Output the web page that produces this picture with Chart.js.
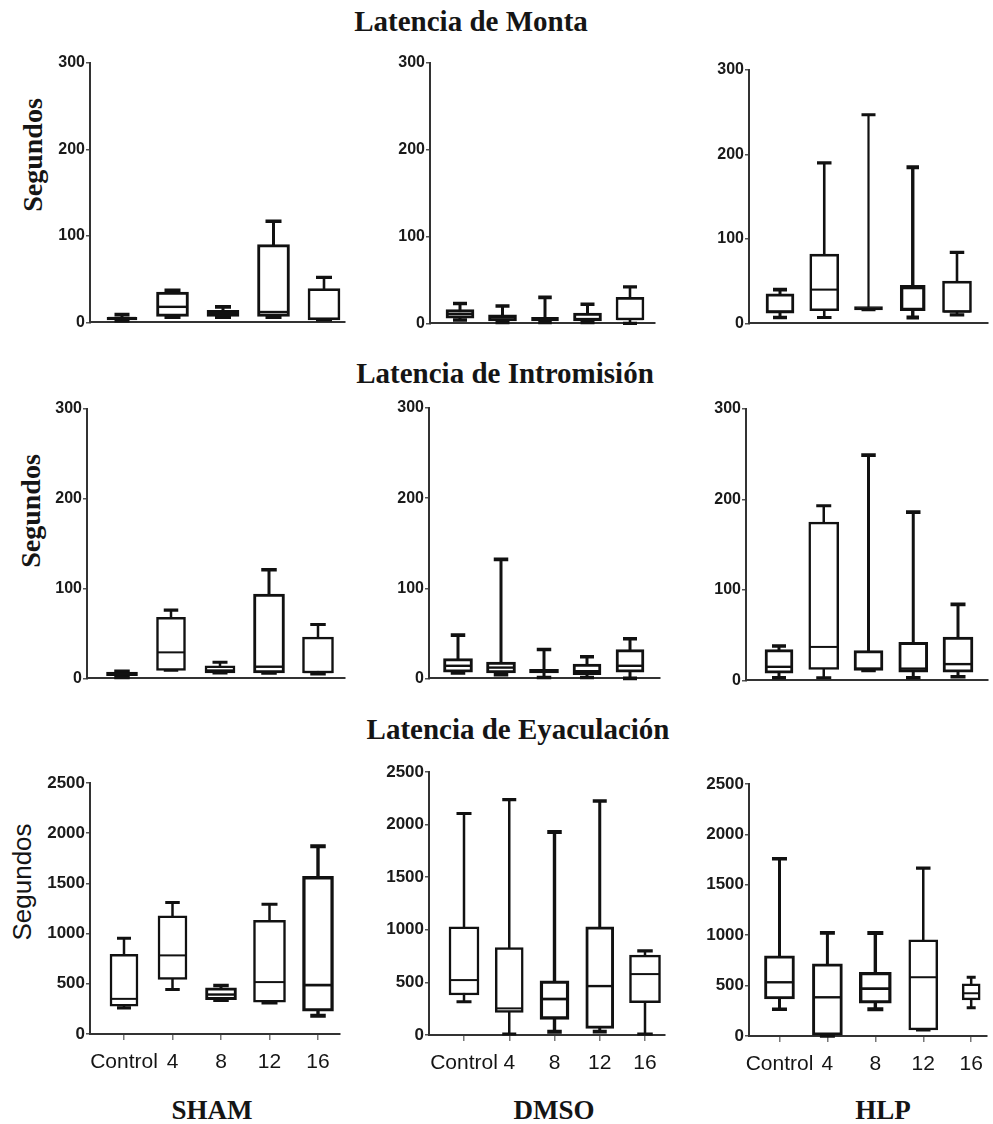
<!DOCTYPE html>
<html>
<head>
<meta charset="utf-8">
<script src="https://cdn.jsdelivr.net/npm/chart.js@4.4.1/dist/chart.umd.min.js"></script>
<style>
  html, body { margin: 0; padding: 0; background: #fff; }
  body { width: 993px; height: 1124px; position: relative; overflow: hidden; }
  .panel { position: absolute; }
  .title { position: absolute; font-family: "Liberation Serif", "Times New Roman", serif; font-weight: bold; color: #151515; white-space: nowrap; line-height: 1; transform: translateX(-50%); }
  .ylab { position: absolute; white-space: nowrap; line-height: 1; color: #151515; transform: translate(-50%, -50%) rotate(-90deg); }
</style>
</head>
<body>
<div class="title" style="left:471px; top:7px; font-size:29px;">Latencia de Monta</div>
<div class="title" style="left:505px; top:359px; font-size:29px;">Latencia de Intromisión</div>
<div class="title" style="left:518px; top:715px; font-size:29px;">Latencia de Eyaculación</div>

<div class="ylab" style="left:33px; top:155px; font-family:'Liberation Serif',serif; font-weight:bold; font-size:28px;">Segundos</div>
<div class="ylab" style="left:31px; top:511px; font-family:'Liberation Serif',serif; font-weight:bold; font-size:28px;">Segundos</div>
<div class="ylab" style="left:22px; top:882px; font-family:'Liberation Sans',Arial,sans-serif; font-size:26px;">Segundos</div>

<div class="title" style="left:212px; top:1097px; font-size:27px;">SHAM</div>
<div class="title" style="left:554px; top:1097px; font-size:27px;">DMSO</div>
<div class="title" style="left:883px; top:1097px; font-size:27px;">HLP</div>

<script>
// ---------- DATA ----------
const categories = ['Control', '4', '8', '12', '16'];
const latencyTicks = [0, 100, 200, 300];
const ejaculationTicks = [0, 500, 1000, 1500, 2000, 2500];

// Latencia de Monta
const montaShamMin = [2, 6, 6, 6, 3];
const montaShamQ1  = [3, 7, 7, 7, 3];
const montaShamMed = [5, 18, 11, 12, 4];
const montaShamQ3  = [6, 35, 14, 90, 39];
const montaShamMax = [9, 37, 18, 117, 52];

const montaDmsoMin = [4, 1, 1, 1, 0];
const montaDmsoQ1  = [6, 3, 3, 3, 4];
const montaDmsoMed = [11, 7, 5, 5, 5];
const montaDmsoQ3  = [16, 10, 7, 12, 30];
const montaDmsoMax = [23, 20, 30, 22, 42];

const montaHlpMin = [7, 7, 16, 7, 10];
const montaHlpQ1  = [12, 15, 16, 15, 13];
const montaHlpMed = [14, 40, 18, 42, 14];
const montaHlpQ3  = [35, 82, 20, 45, 50];
const montaHlpMax = [40, 190, 247, 185, 84];

// Latencia de Intromisión
const introShamMin = [1, 9, 6, 6, 5];
const introShamQ1  = [3, 9, 6, 6, 6];
const introShamMed = [5, 29, 9, 13, 7];
const introShamQ3  = [7, 68, 14, 94, 46];
const introShamMax = [8, 76, 18, 121, 60];

const introDmsoMin = [6, 4, 1, 1, 0];
const introDmsoQ1  = [7, 6, 6, 4, 7];
const introDmsoMed = [14, 12, 8, 8, 14];
const introDmsoQ3  = [22, 18, 10, 16, 32];
const introDmsoMax = [48, 132, 32, 24, 44];

const introHlpMin = [3, 3, 11, 3, 4];
const introHlpQ1  = [8, 12, 11, 9, 9];
const introHlpMed = [15, 37, 13, 13, 18];
const introHlpQ3  = [34, 175, 33, 42, 48];
const introHlpMax = [38, 193, 249, 186, 84];

// Latencia de Eyaculación
const eyacShamMin = [260, 443, 337, 310, 183];
const eyacShamQ1  = [277, 543, 343, 317, 227];
const eyacShamMed = [350, 783, 393, 517, 487];
const eyacShamQ3  = [793, 1177, 460, 1133, 1570];
const eyacShamMax = [953, 1310, 483, 1293, 1870];

const eyacDmsoMin = [316, 10, 32, 32, 10];
const eyacDmsoQ1  = [380, 215, 149, 63, 307];
const eyacDmsoMed = [522, 253, 342, 465, 579];
const eyacDmsoQ3  = [1028, 832, 516, 1028, 759];
const eyacDmsoMax = [2105, 2237, 1930, 2225, 800];

const eyacHlpMin = [265, 0, 265, 60, 281];
const eyacHlpQ1  = [367, 0, 325, 60, 358];
const eyacHlpMed = [533, 384, 470, 583, 424];
const eyacHlpQ3  = [795, 715, 632, 954, 517];
const eyacHlpMax = [1758, 1023, 1023, 1665, 583];

// ---------- LAYOUT / STYLE ----------
const panels = [
  { stats: [montaShamMin, montaShamQ1, montaShamMed, montaShamQ3, montaShamMax], ticks: latencyTicks, showX: false,
    geo: { axisX: 90, yTop: 63, y0: 325, xRight: 345, c0: 122, c4: 324 }, bw: [30, 32, 32, 32, 32], lw: [3, 3, 3, 3, 2.6] },
  { stats: [montaDmsoMin, montaDmsoQ1, montaDmsoMed, montaDmsoQ3, montaDmsoMax], ticks: latencyTicks, showX: false,
    geo: { axisX: 430, yTop: 63, y0: 326, xRight: 655, c0: 460, c4: 630 }, bw: [28, 28, 27, 28, 28], lw: [3, 3, 3, 3, 2.6] },
  { stats: [montaHlpMin, montaHlpQ1, montaHlpMed, montaHlpQ3, montaHlpMax], ticks: latencyTicks, showX: false,
    geo: { axisX: 749, yTop: 70, y0: 326, xRight: 988, c0: 780, c4: 957 }, bw: [28, 29, 28, 25, 29], lw: [3, 2.6, 2.2, 3.4, 2.6] },

  { stats: [introShamMin, introShamQ1, introShamMed, introShamQ3, introShamMax], ticks: latencyTicks, showX: false,
    geo: { axisX: 87, yTop: 409, y0: 681, xRight: 345, c0: 122, c4: 318 }, bw: [31, 29, 30, 31, 31], lw: [3, 2.5, 2.5, 3, 2.5] },
  { stats: [introDmsoMin, introDmsoQ1, introDmsoMed, introDmsoQ3, introDmsoMax], ticks: latencyTicks, showX: false,
    geo: { axisX: 429, yTop: 408, y0: 681, xRight: 660, c0: 458, c4: 630 }, bw: [29, 29, 29, 28, 28], lw: [3, 3, 3, 3, 3] },
  { stats: [introHlpMin, introHlpQ1, introHlpMed, introHlpQ3, introHlpMax], ticks: latencyTicks, showX: false,
    geo: { axisX: 746, yTop: 409, y0: 683, xRight: 988, c0: 779, c4: 958 }, bw: [28, 30, 29, 29, 30], lw: [3, 2.5, 3, 3, 3] },

  { stats: [eyacShamMin, eyacShamQ1, eyacShamMed, eyacShamQ3, eyacShamMax], ticks: ejaculationTicks, showX: true,
    geo: { axisX: 90, yTop: 783, y0: 1034, xRight: 340, c0: 124, c4: 318 }, bw: [28, 29, 31, 32, 31], lw: [2.5, 2.5, 3, 2.5, 3.4] },
  { stats: [eyacDmsoMin, eyacDmsoQ1, eyacDmsoMed, eyacDmsoQ3, eyacDmsoMax], ticks: ejaculationTicks, showX: true,
    geo: { axisX: 429, yTop: 772, y0: 1035, xRight: 665, c0: 464, c4: 645 }, bw: [30, 28, 29, 28, 31], lw: [2.5, 2.5, 3.4, 3, 2.5] },
  { stats: [eyacHlpMin, eyacHlpQ1, eyacHlpMed, eyacHlpQ3, eyacHlpMax], ticks: ejaculationTicks, showX: true,
    geo: { axisX: 749, yTop: 784, y0: 1036, xRight: 991, c0: 780, c4: 975 }, bw: [30, 30, 32, 29, 18], lw: [3, 3, 3.4, 2.5, 2.5] }
];

// ---------- BOX & WHISKER PLUGIN ----------
const boxWhiskerPlugin = {
  id: 'boxWhisker',
  beforeDatasetsDraw(chart, args, opts) {
    const { ctx } = chart;
    const x = chart.scales.x, y = chart.scales.y;
    ctx.save();
    ctx.strokeStyle = '#111';
    ctx.lineCap = 'butt';
    opts.min.forEach((mn, i) => {
      const cx = x.getPixelForValue(i);
      const capHalf = opts.bw[i] * 0.25;
      const yMin = y.getPixelForValue(mn);
      const yMax = y.getPixelForValue(opts.max[i]);
      ctx.lineWidth = opts.lw[i];
      ctx.beginPath();
      ctx.moveTo(cx, yMin); ctx.lineTo(cx, yMax);
      ctx.stroke();
      ctx.lineWidth = opts.lw[i] + 0.6;
      ctx.beginPath();
      ctx.moveTo(cx - capHalf, yMax); ctx.lineTo(cx + capHalf, yMax);
      ctx.moveTo(cx - capHalf, yMin); ctx.lineTo(cx + capHalf, yMin);
      ctx.stroke();
    });
    ctx.restore();
  },
  afterDatasetsDraw(chart, args, opts) {
    const { ctx } = chart;
    const x = chart.scales.x, y = chart.scales.y;
    ctx.save();
    ctx.strokeStyle = '#111';
    opts.med.forEach((md, i) => {
      const cx = x.getPixelForValue(i);
      const half = opts.bw[i] / 2;
      const ym = y.getPixelForValue(md);
      ctx.lineWidth = Math.max(2, opts.lw[i] * 0.8);
      ctx.beginPath();
      ctx.moveTo(cx - half + 1, ym); ctx.lineTo(cx + half - 1, ym);
      ctx.stroke();
    });
    ctx.restore();
  }
};

// ---------- BUILD PANELS ----------
const Yw = 60, padTop = 12, padRight = 2;

panels.forEach((p) => {
  const [mins, q1s, meds, q3s, maxs] = p.stats;
  const g = p.geo;
  const Xh = p.showX ? 48 : 8;
  const width = Yw + (g.xRight - g.axisX) + padRight;
  const height = padTop + (g.y0 - g.yTop) + Xh;
  const wrap = document.createElement('div');
  wrap.className = 'panel';
  wrap.style.left = (g.axisX - Yw) + 'px';
  wrap.style.top = (g.yTop - padTop) + 'px';
  wrap.style.width = width + 'px';
  wrap.style.height = height + 'px';
  const canvas = document.createElement('canvas');
  canvas.width = width; canvas.height = height;
  canvas.style.width = width + 'px'; canvas.style.height = height + 'px';
  wrap.appendChild(canvas);
  document.body.appendChild(wrap);

  const spacing = (g.c4 - g.c0) / (categories.length - 1);
  const xMin = -(g.c0 - g.axisX) / spacing;
  const xMax = (categories.length - 1) + (g.xRight - g.c4) / spacing;
  const yTicks = p.ticks;

  const datasets = categories.map((c, i) => ({
    label: c,
    data: [{ x: i, y: [q1s[i], q3s[i]] }],
    backgroundColor: '#ffffff',
    borderColor: '#111111',
    borderWidth: p.lw[i],
    borderSkipped: false,
    barThickness: p.bw[i],
    grouped: false
  }));

  new Chart(canvas, {
    type: 'bar',
    data: { datasets },
    options: {
      responsive: false,
      animation: false,
      devicePixelRatio: 1,
      events: [],
      layout: { padding: { top: padTop, right: padRight, left: 0, bottom: 0 } },
      plugins: {
        legend: { display: false },
        tooltip: { enabled: false },
        boxWhisker: { min: mins, med: meds, max: maxs, bw: p.bw, lw: p.lw }
      },
      scales: {
        x: {
          type: 'linear',
          min: xMin, max: xMax,
          offset: false,
          afterFit(s) { s.height = Xh; },
          afterBuildTicks(s) { s.ticks = categories.map((c, i) => ({ value: i })); },
          ticks: {
            display: p.showX,
            autoSkip: false, maxRotation: 0, minRotation: 0,
            padding: 10,
            color: '#151515',
            font: { family: "'Liberation Sans', Arial, sans-serif", size: 21 },
            callback: (v) => categories[v]
          },
          grid: { display: p.showX, offset: false, drawOnChartArea: false, drawTicks: true, tickLength: 6, color: '#777', lineWidth: 1.5 },
          border: { display: true, color: '#333', width: 2 }
        },
        y: {
          type: 'linear',
          min: yTicks[0], max: yTicks[yTicks.length - 1],
          afterFit(s) { s.width = Yw; },
          afterBuildTicks(s) { s.ticks = yTicks.map((v) => ({ value: v })); },
          ticks: {
            padding: 1,
            color: '#1a1a1a',
            font: { family: "'Liberation Sans', Arial, sans-serif", size: p.showX ? 17 : 16, weight: 'bold' },
            callback: (v) => String(v)
          },
          grid: { drawOnChartArea: false, drawTicks: true, tickLength: 4, color: '#555', lineWidth: 1.5 },
          border: { display: true, color: '#333', width: 2 }
        }
      }
    },
    plugins: [boxWhiskerPlugin]
  });
});
</script>
</body>
</html>
